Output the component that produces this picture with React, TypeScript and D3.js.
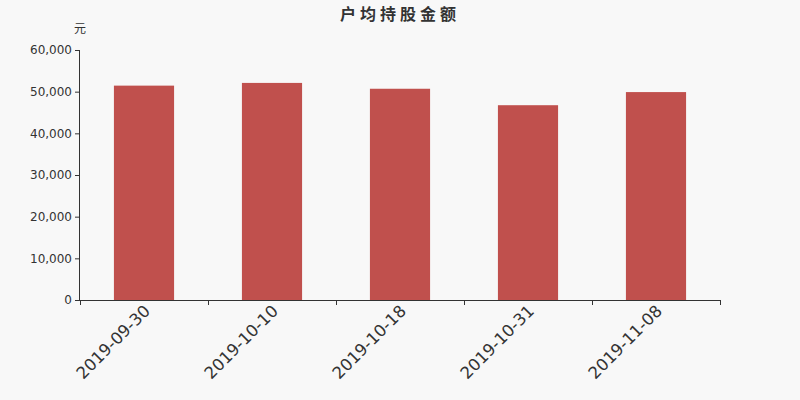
import React, { useRef, useEffect } from "react";
import * as d3 from "d3";

const width = 800;
const height = 400;
const margin = { top: 50, right: 80, bottom: 100, left: 80 };

// 户均持股金额（元）
const dates = ["2019-09-30", "2019-10-10", "2019-10-18", "2019-10-31", "2019-11-08"];
const amounts = [51450, 52100, 50700, 46750, 49900];
const yTicks = [0, 10000, 20000, 30000, 40000, 50000, 60000];

const font = "'DejaVu Sans', 'Noto Sans CJK SC', sans-serif";

export default function App() {
  const svgRef = useRef<SVGSVGElement>(null);

  useEffect(() => {
    if (!svgRef.current) return;
    const svg = d3.select(svgRef.current);
    svg.selectAll("*").remove();

    svg.append("rect").attr("width", width).attr("height", height).attr("fill", "#f8f8f8");

    const x = d3.scaleBand()
      .domain(dates)
      .range([margin.left, width - margin.right])
      .paddingInner(0.53)
      .paddingOuter(0.265);

    const y = d3.scaleLinear()
      .domain([0, 60000])
      .range([height - margin.bottom, margin.top]);

    // bars
    svg.append("g")
      .selectAll("rect")
      .data(dates)
      .join("rect")
      .attr("x", d => x(d)!)
      .attr("width", x.bandwidth())
      .attr("y", (d, i) => y(amounts[i]))
      .attr("height", (d, i) => y(0) - y(amounts[i]))
      .attr("fill", "#c0504d");

    // y axis
    const yAxis = svg.append("g")
      .attr("transform", `translate(${margin.left},0)`)
      .call(d3.axisLeft(y).tickValues(yTicks).tickSize(5).tickPadding(3).tickFormat(d3.format(",")));
    yAxis.select(".domain").attr("stroke", "#333").attr("d", `M-0.5,${y(60000)}V${y(0)}`);
    yAxis.selectAll(".tick line").attr("stroke", "#333");
    yAxis.selectAll("text")
      .attr("fill", "#333")
      .style("font-family", font)
      .style("font-size", "12px");

    // x axis
    const step = x.step();
    const boundaries = d3.range(dates.length + 1).map(i => margin.left + i * step);
    const xg = svg.append("g");
    xg.append("line")
      .attr("x1", margin.left).attr("x2", width - margin.right)
      .attr("y1", y(0) + 0.5).attr("y2", y(0) + 0.5)
      .attr("stroke", "#333");
    xg.selectAll("line.tick")
      .data(boundaries)
      .join("line")
      .attr("class", "tick")
      .attr("x1", d => d + 0.5).attr("x2", d => d + 0.5)
      .attr("y1", y(0)).attr("y2", y(0) + 5)
      .attr("stroke", "#333");
    xg.selectAll("text")
      .data(dates)
      .join("text")
      .attr("transform", d => `translate(${x(d)! + x.bandwidth() / 2 + 3},${y(0) + 8}) rotate(-45)`)
      .attr("text-anchor", "end")
      .attr("dy", "0.35em")
      .attr("fill", "#333")
      .style("font-family", font)
      .style("font-size", "16.5px")
      .text(d => d);

    // unit
    svg.append("text")
      .attr("x", margin.left)
      .attr("y", 33)
      .attr("text-anchor", "middle")
      .attr("fill", "#333")
      .style("font-family", font)
      .style("font-size", "12px")
      .text("元");

    // title
    svg.append("text")
      .attr("x", width / 2)
      .attr("y", 20)
      .attr("text-anchor", "middle")
      .attr("fill", "#333")
      .style("font-family", font)
      .style("font-size", "16px")
      .style("font-weight", "bold")
      .style("letter-spacing", "4px")
      .text("户均持股金额");
  }, []);

  return (
    <svg
      ref={svgRef}
      width={width}
      height={height}
      style={{ position: "absolute", left: 0, top: 0 }}
    />
  );
}
